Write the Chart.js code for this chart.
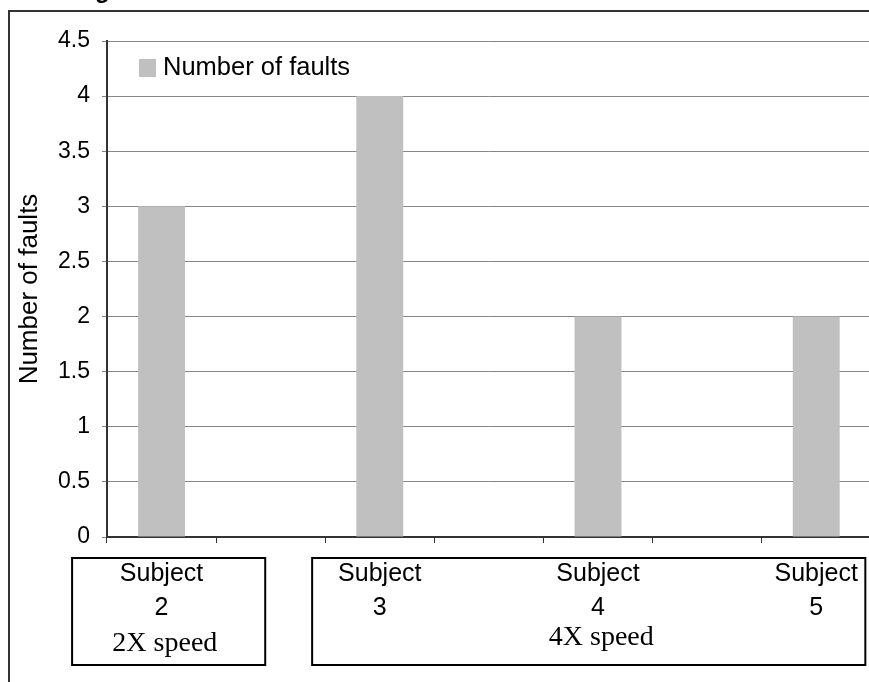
<!DOCTYPE html>
<html>
<head>
<meta charset="utf-8">
<script src="https://cdn.jsdelivr.net/npm/chart.js@4.4.1/dist/chart.umd.min.js"></script>
<style>
  html, body { margin: 0; padding: 0; background: #fff; overflow: hidden; }
  canvas { display: block; }
</style>
</head>
<body>
<canvas id="c" width="872" height="682"></canvas>
<script>
// Faults per subject; empty slots separate the subjects on the category axis.
const categories = [['Subject', '2'], '', ['Subject', '3'], '', ['Subject', '4'], '', ['Subject', '5']];
const faults = [3, null, 4, null, 2, null, 2];
const seriesName = 'Number of faults';
const yAxisTitle = 'Number of faults';
const yMin = 0, yMax = 4.5, yStep = 0.5;
// Speed groups: first and last category index of each group
const groups = [
  { text: '2X speed', from: 0, to: 0 },
  { text: '4X speed', from: 2, to: 6 }
];
const headingText = 'g';

const SANS = '"Liberation Sans", Arial, sans-serif';
const SERIF = '"Liberation Serif", "Times New Roman", serif';
const BAR = '#c0c0c0';

// Frame around the figure and the cut-off heading above it
const framePlugin = {
  id: 'frame',
  beforeDraw(chart) {
    const ctx = chart.ctx;
    ctx.save();
    ctx.fillStyle = '#fff';
    ctx.fillRect(0, 0, chart.width, chart.height);
    ctx.strokeStyle = '#333';
    ctx.lineWidth = 2;
    ctx.beginPath();
    ctx.moveTo(9, chart.height);
    ctx.lineTo(9, 11);
    ctx.lineTo(chart.width, 11);
    ctx.stroke();
    ctx.fillStyle = '#000';
    ctx.font = 'bold 24px ' + SANS;
    ctx.textBaseline = 'alphabetic';
    ctx.fillText(headingText, 95, -2);
    ctx.restore();
  }
};

// Legend drawn inside the plot, top-left
const innerLegend = {
  id: 'innerLegend',
  afterDraw(chart) {
    const ctx = chart.ctx;
    const a = chart.chartArea;
    const ds = chart.data.datasets[0];
    ctx.save();
    ctx.fillStyle = ds.backgroundColor;
    ctx.fillRect(a.left + 32, a.top + 18, 17, 18);
    ctx.fillStyle = '#000';
    ctx.font = '25.5px ' + SANS;
    ctx.textBaseline = 'middle';
    ctx.textAlign = 'left';
    ctx.fillText(ds.label, a.left + 56, a.top + 27);
    ctx.restore();
  }
};

// Boxes grouping the subjects by playback speed
const groupBoxes = {
  id: 'groupBoxes',
  afterDraw(chart) {
    const ctx = chart.ctx;
    const x = chart.scales.x;
    const w = x.getPixelForTick(1) - x.getPixelForTick(0);
    const top = chart.chartArea.bottom + 21;
    const bottom = chart.chartArea.bottom + 128;
    ctx.save();
    ctx.strokeStyle = '#000';
    ctx.lineWidth = 2;
    ctx.fillStyle = '#000';
    ctx.font = '28px ' + SERIF;
    ctx.textAlign = 'center';
    ctx.textBaseline = 'middle';
    groups.forEach((g) => {
      const single = g.from === g.to;
      const left = x.getPixelForTick(g.from) - (single ? 0.82 : 0.62) * w;
      const right = x.getPixelForTick(g.to) + (single ? 0.95 : 0.45) * w;
      ctx.strokeRect(left, top, right - left, bottom - top);
      const cx = single ? x.getPixelForTick(g.from) + 0.03 * w
                        : x.getPixelForTick((g.from + g.to) / 2) + 0.03 * w;
      ctx.fillText(g.text, cx, single ? top + 86 : top + 80);
    });
    ctx.restore();
  }
};

new Chart(document.getElementById('c'), {
  type: 'bar',
  data: {
    labels: categories,
    datasets: [{
      label: seriesName,
      data: faults,
      backgroundColor: BAR,
      borderWidth: 0,
      categoryPercentage: 1,
      barPercentage: 0.43
    }]
  },
  options: {
    responsive: false,
    animation: false,
    devicePixelRatio: 1,
    layout: { padding: { top: 41, left: 0, right: 1, bottom: 0 } },
    plugins: {
      legend: { display: false },
      tooltip: { enabled: false }
    },
    scales: {
      x: {
        afterFit(s) { s.height = 145; },
        grid: {
          offset: true,
          drawOnChartArea: false,
          drawTicks: true,
          tickLength: 6,
          color: '#333',
          lineWidth: 1
        },
        border: { color: '#333', width: 2 },
        ticks: {
          color: '#000',
          autoSkip: false,
          maxRotation: 0,
          padding: 14,
          font: { family: SANS, size: 25, lineHeight: 1.36 }
        }
      },
      y: {
        min: yMin,
        max: yMax,
        afterFit(s) { s.width = 107; },
        grid: {
          color: '#868686',
          lineWidth: 1,
          drawTicks: true,
          tickLength: 5
        },
        border: { color: '#333', width: 2 },
        ticks: {
          stepSize: yStep,
          color: '#000',
          padding: 12,
          font: { family: SANS, size: 23 },
          callback: (v) => String(Math.round(v * 10) / 10)
        },
        title: {
          display: true,
          text: yAxisTitle,
          color: '#000',
          font: { family: SANS, size: 26 },
          padding: { top: 14, bottom: 0 }
        }
      }
    }
  },
  plugins: [framePlugin, innerLegend, groupBoxes]
});
</script>
</body>
</html>
